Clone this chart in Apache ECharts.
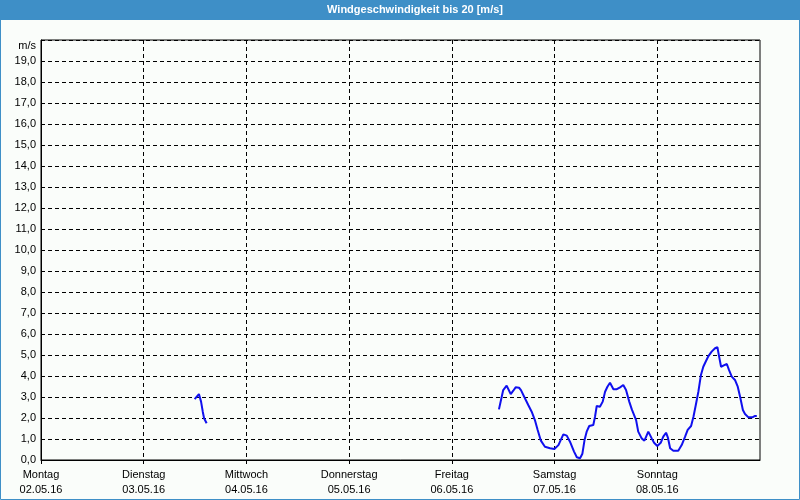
<!DOCTYPE html>
<html>
<head>
<meta charset="utf-8">
<script src="https://cdn.jsdelivr.net/npm/echarts@6/dist/echarts.min.js"></script>
<style>
html,body{margin:0;padding:0;background:#fafdfa;}
#chart{width:800px;height:500px;}
</style>
</head>
<body>
<div id="chart"></div>
<script>
// Day labels (x axis ticks every 24 h, starting Monday 02.05.16 00:00)
var dayNames = ['Montag','Dienstag','Mittwoch','Donnerstag','Freitag','Samstag','Sonntag'];
var dayDates = ['02.05.16','03.05.16','04.05.16','05.05.16','06.05.16','07.05.16','08.05.16'];
var dayTicks = [0, 24, 48, 72, 96, 120, 144];

// Segment 1 (Tuesday): hours since Monday 00:00, speed m/s
var tueHours = [35.9, 36.9, 37.4, 37.8, 38.1, 38.7];
var tueSpeed = [2.90, 3.14, 2.78, 2.30, 1.99, 1.75];

// Segment 2 (Friday afternoon - Sunday)
var endHours = [107.0,107.65,108.0,108.8,109.75,110.35,110.9,111.7,112.15,112.9,113.85,114.65,115.4,116.05,116.8,117.75,118.95,119.95,120.9,122.05,122.85,123.6,124.55,125.2,125.95,126.5,127.0,127.5,128.1,129.05,129.45,129.85,130.6,131.25,131.8,132.35,132.95,133.75,134.55,135.3,136.05,136.7,137.45,138.05,139.05,139.55,140.35,141.0,141.9,142.7,143.25,144.0,144.8,145.4,146.05,146.5,147.0,147.75,148.9,149.7,150.5,151.1,151.9,152.45,153.0,153.6,154.2,154.75,155.3,155.95,156.7,157.5,158.05,158.45,158.9,159.65,160.25,160.75,161.4,162.15,162.8,163.35,164.0,164.5,165.3,166.2,166.85,167.25];
var endSpeed = [2.41,3.01,3.33,3.54,3.14,3.30,3.46,3.44,3.33,3.01,2.62,2.30,1.90,1.43,0.92,0.63,0.56,0.52,0.71,1.22,1.16,0.87,0.40,0.13,0.08,0.30,0.95,1.35,1.62,1.67,2.06,2.57,2.54,2.78,3.25,3.49,3.68,3.37,3.37,3.46,3.57,3.33,2.78,2.41,1.90,1.35,1.03,0.92,1.35,1.03,0.82,0.67,0.82,1.11,1.30,1.05,0.56,0.44,0.44,0.71,1.11,1.43,1.62,2.06,2.62,3.25,4.05,4.44,4.68,4.95,5.16,5.32,5.37,4.92,4.44,4.52,4.57,4.29,3.97,3.81,3.49,3.01,2.38,2.19,2.03,2.03,2.10,2.10];

function pairs(xs, ys){ return xs.map(function(x,i){ return [x, ys[i]]; }); }

var chart = echarts.init(document.getElementById('chart'), null, {renderer:'canvas'});
var lineColor = '#1010ee';
var font = 'Liberation Sans, Arial, sans-serif';

chart.setOption({
  backgroundColor: '#fafdfa',
  animation: false,
  grid: {left: 41, right: 40, top: 40, bottom: 40, show: true, borderColor: '#000', borderWidth: 1, backgroundColor: 'transparent'},
  xAxis: {
    type: 'value', min: 0, max: 168, interval: 24,
    axisLine: {show: true, onZero: false, lineStyle: {color: '#000', width: 1}},
    axisTick: {show: true, length: 4, customValues: dayTicks, lineStyle: {color: '#000'}},
    splitLine: {show: true, lineStyle: {color: '#000', type: [4,3], width: 1}},
    axisLabel: {
      margin: 7, color: '#000', fontFamily: font, fontSize: 11, lineHeight: 15,
      formatter: function(v){ var i = Math.round(v/24); return i < dayNames.length ? dayNames[i] + '\n' + dayDates[i] : ''; }
    }
  },
  yAxis: {
    type: 'value', min: 0, max: 20, interval: 1,
    axisLine: {show: true, lineStyle: {color: '#000', width: 1}},
    axisTick: {show: false},
    splitLine: {show: true, lineStyle: {color: '#000', type: [4,3], width: 1}},
    axisLabel: {
      margin: 5, color: '#000', fontFamily: font, fontSize: 11,
      formatter: function(v){ return v >= 20 ? '' : v.toFixed(1).replace('.', ','); }
    }
  },
  graphic: [
    {type: 'rect', z: -1, shape: {x: 0, y: 0, width: 800, height: 20}, style: {fill: '#3e8fc7'}},
    {type: 'text', x: 415, y: 10, style: {text: 'Windgeschwindigkeit bis 20 [m/s]', fill: '#fff', font: 'bold 11px ' + font, textAlign: 'center', textVerticalAlign: 'middle'}},
    {type: 'text', x: 36, y: 46, style: {text: 'm/s', fill: '#000', font: '11px ' + font, textAlign: 'right', textVerticalAlign: 'middle'}},
    {type: 'rect', shape: {x: 0.5, y: 0.5, width: 799, height: 499}, style: {fill: 'none', stroke: '#3e8fc7', lineWidth: 1}}
  ],
  series: [
    {type: 'line', data: pairs(tueHours, tueSpeed), showSymbol: false, lineStyle: {color: lineColor, width: 2}, itemStyle: {color: lineColor}},
    {type: 'line', data: pairs(endHours, endSpeed), showSymbol: false, lineStyle: {color: lineColor, width: 2}, itemStyle: {color: lineColor}}
  ]
});
</script>
</body>
</html>
